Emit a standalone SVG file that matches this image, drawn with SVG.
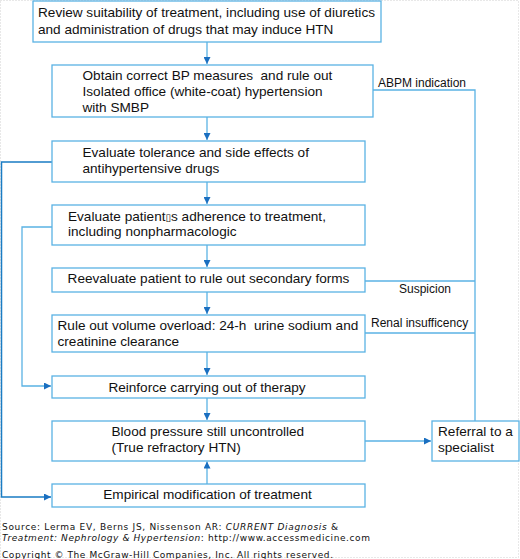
<svg xmlns="http://www.w3.org/2000/svg" width="520" height="559" viewBox="0 0 520 559">
<defs>
<marker id="ah" markerUnits="userSpaceOnUse" markerWidth="8" markerHeight="7" refX="7" refY="3.5" orient="auto">
<path d="M0,0 L7,3.5 L0,7 z" fill="#1a6fc0"/>
</marker>
<style>
.box{fill:#fff;stroke:#5ab2e4;stroke-width:1.3}
.t{font-family:"Liberation Sans",Arial,sans-serif;font-size:13.6px;fill:#111;white-space:pre}
.lab{font-family:"Liberation Sans",Arial,sans-serif;font-size:12px;fill:#111}
.c{fill:none;stroke:#5ab2e4;stroke-width:1.3}
.cd{fill:none;stroke:#1a7cc4;stroke-width:1.5}
.src{font-family:"DejaVu Sans",Verdana,sans-serif;font-size:9px;fill:#111}
</style>
</defs>
<rect x="0" y="0" width="520" height="559" fill="#fff"/>
<rect x="0.5" y="0.5" width="518" height="557" fill="none" stroke="#d0d0d0" stroke-width="1" stroke-dasharray="1,2"/>

<g id="connectors">
<line class="c" x1="207" y1="42" x2="207" y2="64" marker-end="url(#ah)"/>
<line class="c" x1="207" y1="117" x2="207" y2="140" marker-end="url(#ah)"/>
<line class="c" x1="207" y1="182" x2="207" y2="204" marker-end="url(#ah)"/>
<line class="c" x1="207" y1="245" x2="207" y2="267" marker-end="url(#ah)"/>
<line class="c" x1="207" y1="292" x2="207" y2="314" marker-end="url(#ah)"/>
<line class="c" x1="207" y1="352" x2="207" y2="375" marker-end="url(#ah)"/>
<line class="c" x1="207" y1="398" x2="207" y2="420" marker-end="url(#ah)"/>
<line class="c" x1="207" y1="484" x2="207" y2="461.5" marker-end="url(#ah)"/>
<line class="c" x1="365" y1="441" x2="431" y2="441" marker-end="url(#ah)"/>
<polyline class="c" points="373,90 475,90 475,421"/>
<line class="c" x1="365" y1="281" x2="475" y2="281"/>
<line class="c" x1="365" y1="333" x2="475" y2="333"/>
<polyline class="cd" points="52,162 1.5,162 1.5,497 51,497" marker-end="url(#ah)"/>
<polyline class="c" points="52,227 22,227 22,386 51,386" marker-end="url(#ah)"/>
<text class="lab" x="378" y="87">ABPM indication</text>
<text class="lab" x="399" y="293">Suspicion</text>
<text class="lab" x="371" y="327">Renal insufficency</text>
</g>

<g id="n1">
<rect class="box" x="33" y="1" width="348" height="41"/>
<text class="t" x="38" y="17">Review suitability of treatment, including use of diuretics</text>
<text class="t" x="38" y="33.5">and administration of drugs that may induce HTN</text>
</g>
<g id="n2">
<rect class="box" x="52" y="65" width="321" height="52"/>
<text class="t" x="82.5" y="80">Obtain correct BP measures  and rule out</text>
<text class="t" x="82.5" y="96">Isolated office (white-coat) hypertension</text>
<text class="t" x="82.5" y="112">with SMBP</text>
</g>
<g id="n3">
<rect class="box" x="52" y="141" width="313" height="41"/>
<text class="t" x="82.5" y="156.5">Evaluate tolerance and side effects of</text>
<text class="t" x="82.5" y="173">antihypertensive drugs</text>
</g>
<g id="n4">
<rect class="box" x="52" y="205" width="313" height="40"/>
<text class="t" x="68" y="220.5">Evaluate patient<tspan font-family="DejaVu Sans" font-size="10px">▯</tspan>s adherence to treatment,</text>
<text class="t" x="68" y="235.5">including nonpharmacologic</text>
</g>
<g id="n5">
<rect class="box" x="52" y="268" width="313" height="24"/>
<text class="t" x="208.5" y="283" text-anchor="middle">Reevaluate patient to rule out secondary forms</text>
</g>
<g id="n6">
<rect class="box" x="52" y="315" width="313" height="37"/>
<text class="t" x="57.5" y="329.5">Rule out volume overload: 24-h  urine sodium and</text>
<text class="t" x="57.5" y="346">creatinine clearance</text>
</g>
<g id="n7">
<rect class="box" x="52" y="376" width="313" height="22"/>
<text class="t" x="207" y="391.5" text-anchor="middle">Reinforce carrying out of therapy</text>
</g>
<g id="n8">
<rect class="box" x="52" y="421" width="313" height="40"/>
<text class="t" x="111.5" y="435.5">Blood pressure still uncontrolled</text>
<text class="t" x="111.5" y="452">(True refractory HTN)</text>
</g>
<g id="n9">
<rect class="box" x="432" y="421" width="87" height="40"/>
<text class="t" x="438" y="435.5">Referral to a</text>
<text class="t" x="438" y="452">specialist</text>
</g>
<g id="n10">
<rect class="box" x="52" y="484" width="313" height="23"/>
<text class="t" x="207.5" y="499" text-anchor="middle">Empirical modification of treatment</text>
</g>

<g id="source">
<text class="src" x="2" y="530" textLength="336" lengthAdjust="spacing">Source: Lerma EV, Berns JS, Nissenson AR: <tspan font-style="italic">CURRENT Diagnosis</tspan> &amp;</text>
<text class="src" x="2" y="541" textLength="368" lengthAdjust="spacing"><tspan font-style="italic">Treatment: Nephrology &amp; Hypertension</tspan>: http://www.accessmedicine.com</text>
<text class="src" x="2" y="557.5" textLength="331" lengthAdjust="spacing">Copyright © The McGraw-Hill Companies, Inc. All rights reserved.</text>
</g>
</svg>
